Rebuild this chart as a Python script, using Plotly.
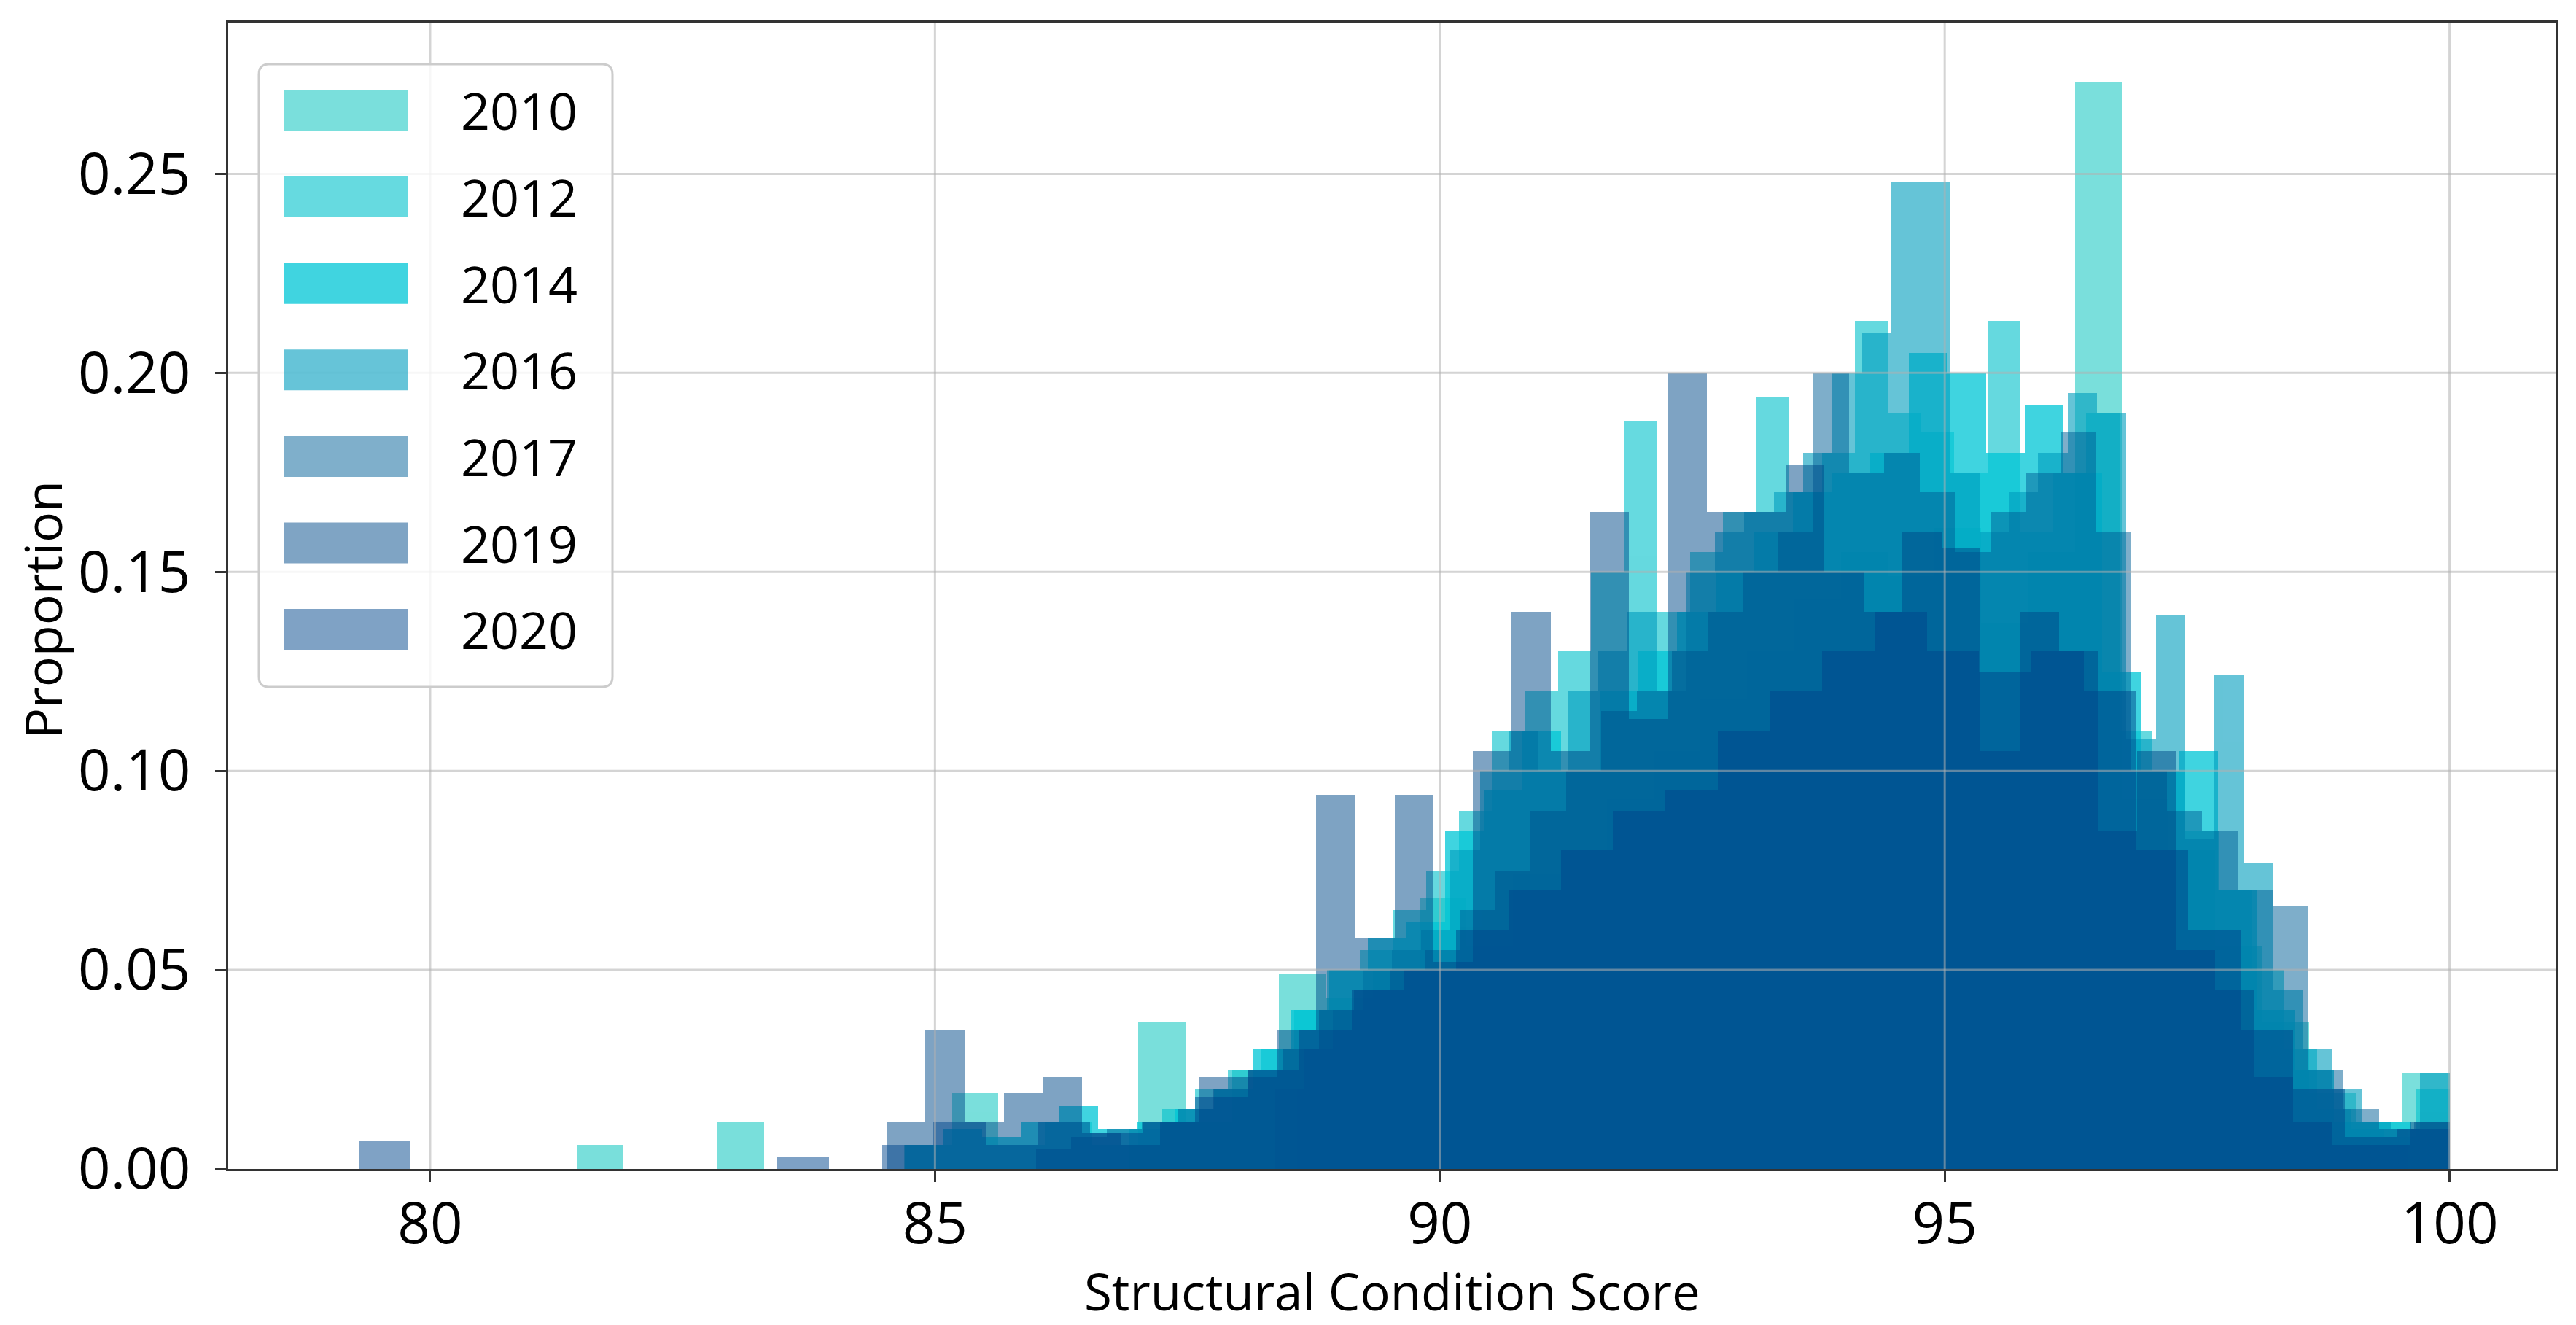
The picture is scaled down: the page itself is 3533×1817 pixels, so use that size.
import numpy as np
import plotly.graph_objects as go

# ---------------- data ----------------
YEARS = ["2010", "2012", "2014", "2016", "2017", "2019", "2020"]
# per-year histogram range start (all ranges end at 100), 40 bins each
RANGE_MIN = [81.45, 86.92, 84.70, 88.36, 86.00, 84.52, 79.29]
RANGE_MAX = 100.0
N_BINS = 40

H2010 = [0.006, 0.000, 0.000, 0.012, 0.000, 0.000, 0.000, 0.006, 0.019, 0.006,
         0.012, 0.006, 0.037, 0.012, 0.025, 0.049, 0.043, 0.050, 0.068, 0.056,
         0.074, 0.080, 0.093, 0.105, 0.118, 0.130, 0.143, 0.155, 0.149, 0.161,
         0.137, 0.155, 0.273, 0.093, 0.080, 0.056, 0.037, 0.019, 0.012, 0.024]
H2012 = [0.010, 0.015, 0.020, 0.025, 0.030, 0.040, 0.050, 0.055, 0.065, 0.075,
         0.090, 0.110, 0.120, 0.130, 0.150, 0.188, 0.140, 0.155, 0.165, 0.194,
         0.170, 0.180, 0.213, 0.190, 0.185, 0.175, 0.213, 0.160, 0.175, 0.190,
         0.110, 0.100, 0.085, 0.070, 0.050, 0.030, 0.015, 0.010, 0.008, 0.020]
H2014 = [0.006, 0.010, 0.008, 0.012, 0.016, 0.010, 0.012, 0.015, 0.020, 0.030,
         0.040, 0.050, 0.058, 0.062, 0.085, 0.095, 0.110, 0.100, 0.120, 0.130,
         0.140, 0.150, 0.160, 0.170, 0.175, 0.180, 0.205, 0.200, 0.180, 0.192,
         0.175, 0.125, 0.100, 0.105, 0.070, 0.040, 0.025, 0.012, 0.012, 0.010]
H2016 = [0.020, 0.030, 0.040, 0.050, 0.055, 0.060, 0.080, 0.100, 0.110, 0.100,
         0.120, 0.130, 0.140, 0.120, 0.150, 0.160, 0.165, 0.170, 0.180, 0.200,
         0.210, 0.248, 0.248, 0.175, 0.160, 0.170, 0.180, 0.195, 0.190, 0.108,
         0.139, 0.083, 0.124, 0.077, 0.045, 0.030, 0.020, 0.012, 0.010, 0.024]
H2017 = [0.005, 0.008, 0.010, 0.012, 0.015, 0.020, 0.025, 0.030, 0.040, 0.045,
         0.050, 0.055, 0.065, 0.075, 0.090, 0.100, 0.115, 0.120, 0.130, 0.140,
         0.150, 0.160, 0.200, 0.175, 0.180, 0.170, 0.155, 0.165, 0.175, 0.185,
         0.160, 0.100, 0.090, 0.085, 0.070, 0.066, 0.025, 0.015, 0.010, 0.012]
H2019 = [0.012, 0.035, 0.012, 0.019, 0.023, 0.009, 0.006, 0.012, 0.023, 0.023,
         0.035, 0.094, 0.058, 0.094, 0.052, 0.105, 0.140, 0.105, 0.165, 0.113,
         0.200, 0.165, 0.165, 0.177, 0.150, 0.140, 0.160, 0.156, 0.105, 0.140,
         0.130, 0.085, 0.105, 0.055, 0.045, 0.023, 0.012, 0.006, 0.006, 0.012]
H2020 = [0.007, 0.000, 0.000, 0.000, 0.000, 0.000, 0.000, 0.000, 0.003, 0.000,
         0.006, 0.012, 0.006, 0.012, 0.009, 0.012, 0.018, 0.025, 0.035, 0.045,
         0.050, 0.060, 0.070, 0.080, 0.090, 0.095, 0.110, 0.120, 0.130, 0.140,
         0.130, 0.125, 0.130, 0.120, 0.080, 0.060, 0.035, 0.020, 0.008, 0.010]
HEIGHTS = [H2010, H2012, H2014, H2016, H2017, H2019, H2020]

X_TICKS = [80, 85, 90, 95, 100]
Y_TICKS = [0.00, 0.05, 0.10, 0.15, 0.20, 0.25]
X_TITLE = "Structural Condition Score"
Y_TITLE = "Proportion"

# ---------------- style ----------------
COLORS = ["rgb(13,197,191)", "rgb(0,193,203)", "rgb(0,198,214)", "rgb(0,157,190)",
          "rgb(0,95,151)", "rgb(0,73,137)", "rgb(0,70,140)"]
ALPHAS = [0.55, 0.6, 0.75, 0.6, 0.5, 0.5, 0.5]
W, H = 3533, 1817
L, R, T, B = 305, 3497, 23, 1595          # plot-area pixel box
FONT = "Open Sans"

fig = go.Figure()
for year, lo, hts, col, a in zip(YEARS, RANGE_MIN, HEIGHTS, COLORS, ALPHAS):
    edges = np.linspace(lo, RANGE_MAX, N_BINS + 1)
    centers = (edges[:-1] + edges[1:]) / 2
    width = edges[1] - edges[0]
    fig.add_trace(go.Bar(
        x=centers, y=hts, width=width, name=year, showlegend=False,
        marker=dict(color=col, line=dict(width=0)), opacity=a))


def pxx(p):
    return (p - L) / (R - L)


def pxy(p):
    return (B - p) / (B - T)


shapes = []
grid = dict(color="rgba(176,176,176,0.55)", width=3)
for xv in X_TICKS:
    shapes.append(dict(type="line", xref="x", yref="paper", x0=xv, x1=xv, y0=0, y1=1,
                       line=grid, layer="above"))
for yv in Y_TICKS[1:]:
    shapes.append(dict(type="line", xref="paper", yref="y", x0=0, x1=1, y0=yv, y1=yv,
                       line=grid, layer="above"))

# legend box (rounded, semi-transparent like matplotlib)
bx0, bx1, by0, by1, rad = 347, 832, 80, 934, 14
rx, ry = rad / (R - L), rad / (B - T)
X0, X1, Y0, Y1 = pxx(bx0), pxx(bx1), pxy(by1), pxy(by0)
path = (f"M {X0+rx},{Y1} L {X1-rx},{Y1} Q {X1},{Y1} {X1},{Y1-ry} "
        f"L {X1},{Y0+ry} Q {X1},{Y0} {X1-rx},{Y0} L {X0+rx},{Y0} "
        f"Q {X0},{Y0} {X0},{Y0+ry} L {X0},{Y1-ry} Q {X0},{Y1} {X0+rx},{Y1} Z")
shapes.append(dict(type="path", xref="paper", yref="paper", path=path,
                   fillcolor="rgba(255,255,255,0.8)",
                   line=dict(color="rgba(204,204,204,1)", width=3), layer="above"))

annotations = []
for i, (year, col, a) in enumerate(zip(YEARS, COLORS, ALPHAS)):
    cy = 143.5 + 118.6 * i
    shapes.append(dict(type="rect", xref="paper", yref="paper",
                       x0=pxx(382), x1=pxx(552), y0=pxy(cy + 28), y1=pxy(cy - 28),
                       fillcolor=col, opacity=a, line=dict(width=0), layer="above"))
    annotations.append(dict(xref="paper", yref="paper", x=pxx(622), y=pxy(cy),
                            xanchor="left", yanchor="middle", text=year, showarrow=False,
                            font=dict(family=FONT, size=70, color="black")))

# axis titles
annotations.append(dict(xref="paper", yref="paper", x=0.5, y=pxy(1762),
                        xanchor="center", yanchor="middle", text=X_TITLE, showarrow=False,
                        font=dict(family=FONT, size=69, color="black")))
annotations.append(dict(xref="paper", yref="paper", x=pxx(50), y=pxy(828),
                        xanchor="center", yanchor="middle", text=Y_TITLE, showarrow=False,
                        textangle=-90, font=dict(family=FONT, size=70, color="black")))

axis_common = dict(showline=True, linecolor="#333333", linewidth=3, mirror=True,
                   ticks="outside", ticklen=15, tickwidth=3, tickcolor="#333333",
                   showgrid=False, zeroline=False,
                   tickfont=dict(family=FONT, size=78, color="black"))

fig.update_layout(
    width=W, height=H,
    margin=dict(l=L, r=W - R, t=T, b=H - B),
    paper_bgcolor="white", plot_bgcolor="white",
    barmode="overlay", bargap=0,
    shapes=shapes, annotations=annotations,
    xaxis=dict(range=[78.0, 101.05], tickvals=X_TICKS, ticklabelstandoff=-10,
               **axis_common),
    yaxis=dict(range=[0, 0.288], tickvals=Y_TICKS, tickformat=".2f",
               ticklabelstandoff=18, **axis_common),
)

fig.write_html("out.html")
